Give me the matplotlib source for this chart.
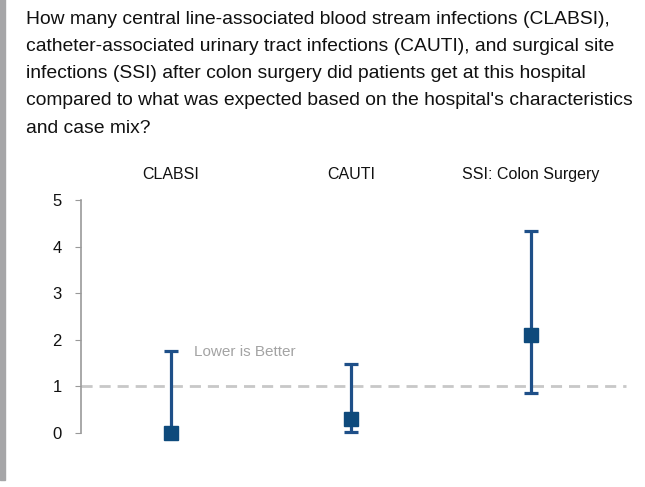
import matplotlib
matplotlib.use("Agg")
import matplotlib.pyplot as plt
from matplotlib.patches import Rectangle

plt.rcParams['font.family'] = ['Liberation Sans', 'DejaVu Sans']

categories = ['CLABSI', 'CAUTI', 'SSI: Colon Surgery']
sir = [0.0, 0.3, 2.1]
lower = [0.0, 0.02, 0.85]
upper = [1.77, 1.49, 4.35]
yticks = [0, 1, 2, 3, 4, 5]

title = ("How many central line-associated blood stream infections (CLABSI),\n"
         "catheter-associated urinary tract infections (CAUTI), and surgical site\n"
         "infections (SSI) after colon surgery did patients get at this hospital\n"
         "compared to what was expected based on the hospital's characteristics\n"
         "and case mix?")

fig = plt.figure(figsize=(6.45, 4.87), dpi=100)
fig.patches.append(Rectangle((0, 7 / 487), 5 / 645, 1, transform=fig.transFigure,
                             color='#a6a6a8', zorder=0))
fig.text(26 / 645, 1 - 11 / 487, title, ha='left', va='top', fontsize=13.9,
         linespacing=1.78, color='#111111')

ax = fig.add_axes([81 / 645, 40 / 487, 540 / 645, 256 / 487])
x = list(range(len(categories)))

ax.plot([-0.5, 2.53], [1, 1], color='#c8c8c8', lw=2, ls=(0, (4, 2.5)), zorder=1,
        clip_on=False)

err_lo = [s - l for s, l in zip(sir, lower)]
err_hi = [u - s for s, u in zip(sir, upper)]
ax.errorbar(x, sir, yerr=[err_lo, err_hi], fmt='s', color='#0e4a7c', ecolor='#1e4f88',
            elinewidth=2.3, capsize=5, capthick=2.3, markersize=9.5, zorder=3)

ax.text(0.13, 1.74, 'Lower is Better', color='#a3a3a3', fontsize=11, va='center', ha='left')

for xi, c in zip(x, categories):
    ax.text(xi, 5.55, c, ha='center', va='center', fontsize=11.5, color='#111111')

ax.set_xlim(-0.5, 2.5)
ax.set_ylim(-0.3, 5.2)
ax.set_yticks(yticks)
ax.set_yticklabels([str(v) for v in yticks], fontsize=12)
ax.set_xticks([])
for s in ['top', 'right', 'bottom']:
    ax.spines[s].set_visible(False)
ax.spines['left'].set_bounds(0, 5)
ax.spines['left'].set_color('#999999')
ax.spines['left'].set_linewidth(1.2)
ax.tick_params(axis='y', length=4, color='#999999', pad=10, labelcolor='#111111')

fig.savefig('out.png', dpi=100)
